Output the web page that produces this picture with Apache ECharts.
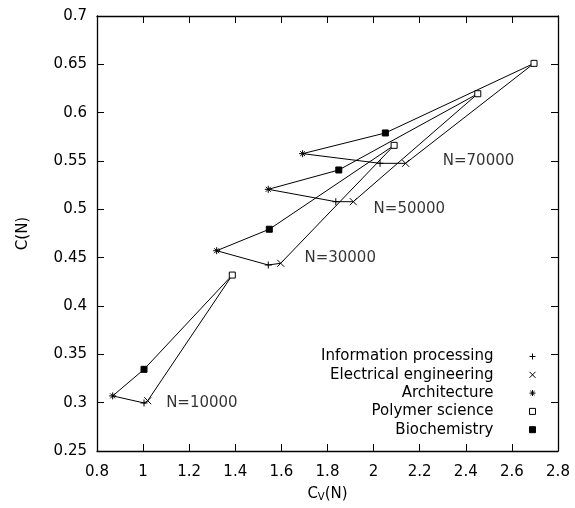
<!DOCTYPE html>
<html>
<head>
<meta charset="utf-8">
<script src="https://cdn.jsdelivr.net/npm/echarts@6/dist/echarts.min.js"></script>
<style>
  html, body { margin: 0; padding: 0; background: #fff; }
  #chart-container { width: 575px; height: 508px; }
</style>
</head>
<body>
<div id="chart-container"></div>
<script>
// sample sizes, one polygon per N
var sizes = ['N=10000', 'N=30000', 'N=50000', 'N=70000'];
var sizeLabelX = [1.1, 1.7, 2.0, 2.3];
var sizeLabelY = [0.30, 0.45, 0.50, 0.55];

// C_V(N) and C(N) for each discipline, ordered by N
var infoCv = [1.004, 1.543, 1.836, 2.028];
var infoC  = [0.2997, 0.4424, 0.5079, 0.5476];
var elecCv = [1.020, 1.597, 1.912, 2.139];
var elecC  = [0.302, 0.4442, 0.5079, 0.5476];
var archCv = [0.868, 1.319, 1.543, 1.692];
var archC  = [0.307, 0.4572, 0.5207, 0.5576];
var polyCv = [1.387, 2.089, 2.452, 2.696];
var polyC  = [0.432, 0.5662, 0.6196, 0.651];
var bioCv  = [1.004, 1.5475, 1.849, 2.051];
var bioC   = [0.3345, 0.4794, 0.5407, 0.579];

var disciplines = ['Information processing', 'Electrical engineering', 'Architecture', 'Polymer science', 'Biochemistry'];

var FONT = '"DejaVu Sans", sans-serif';
var SYM_PLUS = 'path://M0,5L10,5M5,0L5,10';
var SYM_CROSS = 'path://M0,0L10,10M10,0L0,10';
var SYM_STAR = 'path://M0,5L10,5M5,0L5,10M1.5,1.5L8.5,8.5M8.5,1.5L1.5,8.5';
var SYM_SQUARE = 'path://M0,0L10,0L10,10L0,10Z';

function pairs(xs, ys) {
  var out = [];
  for (var i = 0; i < xs.length; i++) out.push([xs[i], ys[i]]);
  return out;
}

var series = [];

// closed polygon for each N: polymer -> biochem -> architecture -> info -> electrical -> polymer
sizes.forEach(function (name, i) {
  series.push({
    name: name,
    type: 'line',
    symbol: 'none',
    silent: true,
    lineStyle: { color: '#000', width: 1 },
    data: [
      [polyCv[i], polyC[i]],
      [bioCv[i], bioC[i]],
      [archCv[i], archC[i]],
      [infoCv[i], infoC[i]],
      [elecCv[i], elecC[i]],
      [polyCv[i], polyC[i]]
    ],
    z: 2
  });
});

function pointSeries(name, xs, ys, symbol, size, fill) {
  return {
    name: name,
    type: 'scatter',
    symbol: symbol,
    symbolSize: size,
    symbolKeepAspect: true,
    itemStyle: { color: fill, borderColor: '#000', borderWidth: 1, opacity: 1 },
    data: pairs(xs, ys),
    z: 5
  };
}

series.push(pointSeries(disciplines[0], infoCv, infoC, SYM_PLUS, 7, '#000'));
series.push(pointSeries(disciplines[1], elecCv, elecC, SYM_CROSS, 7, '#000'));
series.push(pointSeries(disciplines[2], archCv, archC, SYM_STAR, 7, '#000'));
series.push(pointSeries(disciplines[3], polyCv, polyC, SYM_SQUARE, 6, '#fff'));
series.push(pointSeries(disciplines[4], bioCv, bioC, SYM_SQUARE, 6, '#000'));

// the N=... annotations
series.push({
  name: 'sizes',
  type: 'scatter',
  symbolSize: 0,
  silent: true,
  data: sizes.map(function (s, i) { return { value: [sizeLabelX[i], sizeLabelY[i]], name: s }; }),
  label: {
    show: true,
    position: 'right',
    distance: 0,
    formatter: '{b}',
    color: '#000',
    fontSize: 15,
    fontFamily: FONT
  }
});

var tickStyle = { show: true, inside: true, length: 7, lineStyle: { color: '#000', width: 1 } };
var lineStyle = { show: true, onZero: false, lineStyle: { color: '#000', width: 1.3 } };

var option = {
  animation: false,
  backgroundColor: '#fff',
  textStyle: { fontFamily: FONT },
  grid: { left: 97, right: 17, top: 16, bottom: 57, containLabel: false },
  legend: {
    data: disciplines,
    orient: 'vertical',
    align: 'right',
    right: 39,
    top: 349,
    padding: 0,
    itemGap: 3.3,
    itemWidth: 68,
    itemHeight: 6,
    symbolKeepAspect: true,
    selectedMode: false,
    itemStyle: { borderWidth: 1, borderColor: '#000' },
    textStyle: { color: '#000', fontSize: 15, fontFamily: FONT }
  },
  xAxis: [{
    type: 'value',
    position: 'bottom',
    min: 0.8,
    max: 2.8,
    interval: 0.2,
    name: '{a|C}{b|V}{a|(N)}',
    nameLocation: 'middle',
    nameGap: 35,
    nameTextStyle: {
      rich: {
        a: { fontSize: 15, color: '#000', fontFamily: FONT },
        b: { fontSize: 10, color: '#000', fontFamily: FONT, padding: [6, 0, 0, 0] }
      }
    },
    axisLine: lineStyle,
    axisTick: tickStyle,
    splitLine: { show: false },
    axisLabel: {
      color: '#000', fontSize: 15, margin: 14, fontFamily: FONT,
      formatter: function (v) { return String(Math.round(v * 10) / 10); }
    }
  }, {
    type: 'value',
    position: 'top',
    min: 0.8,
    max: 2.8,
    interval: 0.2,
    axisLine: lineStyle,
    axisTick: tickStyle,
    splitLine: { show: false },
    axisLabel: { show: false }
  }],
  yAxis: [{
    type: 'value',
    position: 'left',
    min: 0.25,
    max: 0.7,
    interval: 0.05,
    name: 'C(N)',
    nameLocation: 'middle',
    nameGap: 66,
    nameTextStyle: { color: '#000', fontSize: 15, fontFamily: FONT },
    axisLine: lineStyle,
    axisTick: tickStyle,
    splitLine: { show: false },
    axisLabel: {
      color: '#000', fontSize: 15, margin: 10, fontFamily: FONT,
      formatter: function (v) { return String(Math.round(v * 100) / 100); }
    }
  }, {
    type: 'value',
    position: 'right',
    min: 0.25,
    max: 0.7,
    interval: 0.05,
    axisLine: lineStyle,
    axisTick: tickStyle,
    splitLine: { show: false },
    axisLabel: { show: false }
  }],
  series: series
};

var myChart = echarts.init(document.getElementById('chart-container'), null, { renderer: 'canvas' });
myChart.setOption(option);
window.addEventListener('resize', myChart.resize);
</script>
</body>
</html>
